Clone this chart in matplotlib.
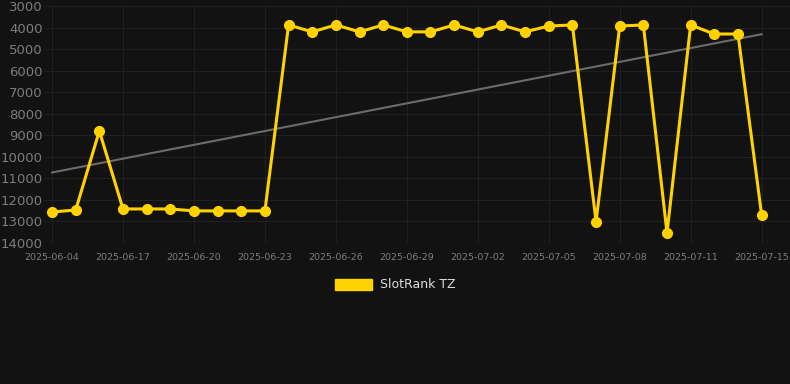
import numpy as np
import matplotlib.pyplot as plt

# SlotRank TZ position per day (lower is better, axis inverted)
dates = ["2025-06-04", "2025-06-05", "2025-06-16", "2025-06-17", "2025-06-18",
         "2025-06-19", "2025-06-20", "2025-06-21", "2025-06-22", "2025-06-23",
         "2025-06-24", "2025-06-25", "2025-06-26", "2025-06-27", "2025-06-28",
         "2025-06-29", "2025-06-30", "2025-07-01", "2025-07-02", "2025-07-03",
         "2025-07-04", "2025-07-05", "2025-07-06", "2025-07-07", "2025-07-08",
         "2025-07-09", "2025-07-10", "2025-07-11", "2025-07-12", "2025-07-14",
         "2025-07-15"]
rank = [12560, 12470, 8800, 12420, 12420, 12420, 12510, 12510, 12510, 12510,
        3880, 4200, 3880, 4200, 3880, 4200, 4200, 3880, 4200, 3880,
        4200, 3930, 3880, 13020, 3930, 3880, 13530, 3880, 4300, 4300,
        12700]
yticks = list(range(3000, 14001, 1000))

BG = "#121212"
GOLD = "#FFD200"

fig = plt.figure(figsize=(7.9, 3.84), dpi=100, facecolor=BG)
ax = fig.add_axes([44 / 790, 1 - 243 / 384, 746 / 790, 237 / 384])
ax.set_facecolor(BG)

x = np.arange(len(dates))
# linear trend over the series
coef = np.polyfit(x, rank, 1)
ax.plot(x, np.polyval(coef, x), color="#6b6b6b", linewidth=1.5, zorder=2)
ax.plot(x, rank, color=GOLD, linewidth=2.2, marker="o", markersize=7,
        zorder=3, label="SlotRank TZ")

ax.set_ylim(14000, 3000)
ax.set_xlim(-0.34, 31.2)
ax.set_yticks(yticks)
ax.set_yticklabels([str(t) for t in yticks])
ax.set_xticks(x[::3])
ax.set_xticklabels(dates[::3])

ax.grid(True, color="#202020", linewidth=0.8)
ax.set_axisbelow(True)
for s in ax.spines.values():
    s.set_visible(False)
ax.tick_params(axis="y", length=0, pad=1, labelsize=9.5, labelcolor="#7c7c7c")
ax.tick_params(axis="x", length=0, pad=7, labelsize=6.8, labelcolor="#7c7c7c")

handle = plt.Rectangle((0, 0), 1, 1, color=GOLD)
fig.legend([handle], ["SlotRank TZ"], loc="center", bbox_to_anchor=(0.5, 1 - 285 / 384),
           frameon=False, fontsize=9, labelcolor="#dddddd",
           handlelength=3.0, handleheight=1.0, handletextpad=0.6)

fig.savefig("out.png", dpi=100, facecolor=BG)
